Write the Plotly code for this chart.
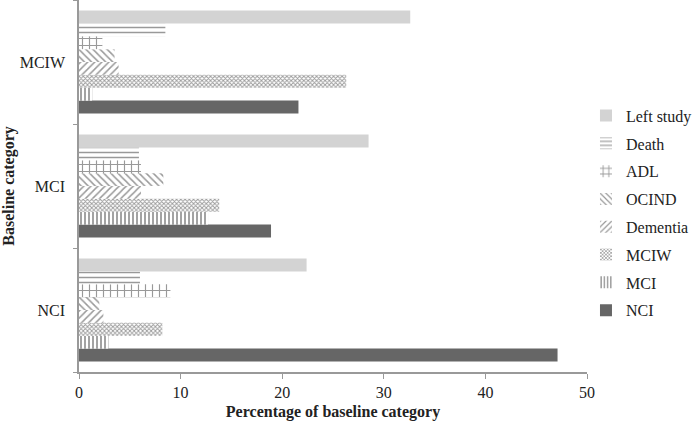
import plotly.graph_objects as go

categories = ["NCI", "MCI", "MCIW"]
series_names = ["NCI", "MCI", "MCIW", "Dementia", "OCIND", "ADL", "Death", "Left study"]
nci = [47.1, 18.9, 21.6]
mci = [2.9, 12.7, 1.3]
mciw = [8.2, 13.8, 26.3]
dementia = [2.4, 6.1, 3.9]
ocind = [2.0, 8.3, 3.5]
adl = [9.0, 6.1, 2.3]
death = [6.0, 5.9, 8.5]
left_study = [22.4, 28.5, 32.6]

values = [nci, mci, mciw, dementia, ocind, adl, death, left_study]

styles = [
    dict(color="#666666"),
    dict(color="white", pattern=dict(shape="|", size=4, solidity=0.45, fgcolor="#333333", bgcolor="white")),
    dict(color="white", pattern=dict(shape="x", size=3, solidity=0.5, fgcolor="#333333", bgcolor="white")),
    dict(color="white", pattern=dict(shape="/", size=5, solidity=0.3, fgcolor="#333333", bgcolor="white")),
    dict(color="white", pattern=dict(shape="\\", size=5, solidity=0.3, fgcolor="#333333", bgcolor="white")),
    dict(color="white", pattern=dict(shape="+", size=7, solidity=0.3, fgcolor="#333333", bgcolor="white")),
    dict(color="white", pattern=dict(shape="-", size=5, solidity=0.3, fgcolor="#333333", bgcolor="white")),
    dict(color="#d3d3d3"),
]

fig = go.Figure()
n = len(series_names)
for i, (name, vals, st) in enumerate(zip(series_names, values, styles)):
    fig.add_trace(go.Bar(
        y=categories, x=vals, name=name, orientation="h",
        marker=dict(line=dict(width=0), **st),
        legendgroup=name, legendrank=1000 + (n - i),
    ))

font = "Liberation Serif, Times New Roman, Times, serif"
fig.update_layout(
    width=700, height=425,
    margin=dict(l=79, r=113, t=0, b=53, autoexpand=False),
    paper_bgcolor="white", plot_bgcolor="white",
    barmode="group", bargap=0.17, bargroupgap=0,
    font=dict(family=font, size=16, color="#222222"),
    showlegend=True,
    legend=dict(
        traceorder="grouped", tracegroupgap=4,
        x=0.998, xanchor="left", y=0.427, yanchor="middle",
        font=dict(family=font, size=16, color="#222222"),
        itemwidth=30,
    ),
    xaxis=dict(
        range=[0, 50], tickvals=[0, 10, 20, 30, 40, 50],
        showgrid=False, zeroline=False, automargin=False,
        showline=True, linecolor="#999999", linewidth=1.5,
        ticks="outside", ticklen=5, tickcolor="#999999",
        title=dict(text="<b>Percentage of baseline category</b>", font=dict(family=font, size=16, color="#222222"), standoff=6),
        tickfont=dict(family=font, size=16),
    ),
    yaxis=dict(
        range=[-0.5, 2.5], categoryorder="array", categoryarray=categories,
        showgrid=False, zeroline=False, automargin=False,
        showline=True, linecolor="#999999", linewidth=1.5,
        ticks="outside", ticklen=4, tickcolor="#999999", tickson="boundaries",
        ticklabelstandoff=9,
        title=dict(text="<b>Baseline category</b>", font=dict(family=font, size=16, color="#222222"), standoff=2),
        tickfont=dict(family=font, size=16),
    ),
)

fig.write_html(
    "out.html",
    config={"displayModeBar": False},
    post_script="document.body.style.margin='0';document.body.style.padding='0';",
)
